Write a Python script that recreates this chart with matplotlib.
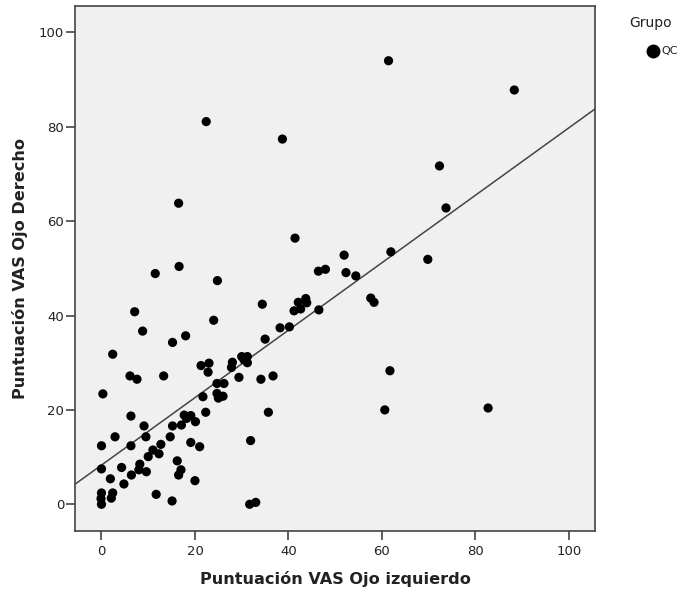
import numpy as np
import matplotlib
matplotlib.use("Agg")
import matplotlib.pyplot as plt
from matplotlib.lines import Line2D

# Data
vas_izq = [61.4, 88.3, 22.4, 38.7, 72.3, 73.7, 16.5, 41.4, 51.9, 61.9,
           69.8, 46.4, 47.9, 52.3, 54.4, 16.6, 11.5, 24.8, 57.6, 58.3,
           43.7, 42.1, 43.9, 41.2, 42.6, 46.5, 34.4, 7.1, 24.0, 40.2,
           38.2, 8.8, 18.0, 35.0, 15.2, 2.4, 30.0, 31.2, 31.2, 30.5,
           21.3, 23.0, 22.8, 28.0, 27.8, 6.1, 7.6, 13.3, 29.4, 34.1,
           36.7, 61.7, 24.7, 26.2, 0.3, 21.7, 24.7, 25.0, 26.0, 60.6,
           82.7, 22.3, 35.7, 6.3, 17.7, 19.1, 20.1, 18.2, 9.1, 15.2,
           17.1, 2.9, 9.5, 14.7, 0.0, 6.3, 12.7, 11.0, 12.3, 10.0,
           19.1, 21.0, 31.9, 16.2, 17.0, 16.5, 20.0, 0.0, 4.3, 8.2,
           8.0, 6.4, 9.6, 1.9, 4.8, 0.0, 2.4, -0.1, 2.1, 0.0,
           11.7, 15.1, 31.7, 33.0]
vas_der = [94.0, 87.8, 81.1, 77.4, 71.7, 62.8, 63.8, 56.4, 52.8, 53.5,
           51.9, 49.4, 49.8, 49.1, 48.4, 50.4, 48.9, 47.4, 43.7, 42.8,
           43.6, 42.8, 42.7, 41.0, 41.4, 41.2, 42.4, 40.8, 39.0, 37.6,
           37.4, 36.7, 35.7, 35.0, 34.3, 31.8, 31.3, 31.3, 30.0, 30.6,
           29.4, 29.9, 28.0, 30.1, 29.0, 27.2, 26.5, 27.2, 26.9, 26.5,
           27.2, 28.3, 25.6, 25.6, 23.4, 22.8, 23.5, 22.5, 22.9, 20.0,
           20.4, 19.5, 19.5, 18.7, 18.9, 18.8, 17.5, 18.2, 16.6, 16.6,
           16.8, 14.3, 14.3, 14.3, 12.4, 12.4, 12.7, 11.5, 10.7, 10.1,
           13.1, 12.2, 13.5, 9.2, 7.3, 6.2, 5.0, 7.5, 7.8, 8.5,
           7.3, 6.2, 6.9, 5.4, 4.3, 2.4, 2.4, 1.2, 1.3, 0.0,
           2.1, 0.7, 0.0, 0.4]
# Fit line as drawn in the reference (intercept, slope)
fit_intercept = 8.3
fit_slope = 0.715
ticks = [0, 20, 40, 60, 80, 100]
grupo = "QC"

x = np.array(vas_izq)
y = np.array(vas_der)

fig = plt.figure(figsize=(6.94, 5.94), dpi=100)
ax = fig.add_axes([75.3/694, 1-530.7/594, (594.7-75.3)/694, (530.7-6)/594])
ax.set_facecolor("#F0F0F0")
ax.set_xlim(-5.6, 105.5)
ax.set_ylim(-5.6, 105.6)

xl = np.array(ax.get_xlim())
ax.plot(xl, fit_intercept + fit_slope * xl, color="#444444", lw=1.1, zorder=2)
ax.scatter(x, y, s=44, color="black", edgecolors="none", zorder=3)

ax.set_xticks(ticks)
ax.set_yticks(ticks)
ax.tick_params(direction="out", length=6.5, width=1.2, color="#444444",
               labelsize=9.5, labelcolor="#222222")
ax.tick_params(axis="x", pad=4)
ax.tick_params(axis="y", pad=1.5)
for sp in ax.spines.values():
    sp.set_color("#444444")
    sp.set_linewidth(1.2)

ax.set_xlabel("Puntuación VAS Ojo izquierdo", fontsize=11.6, fontweight="bold",
              color="#222222", labelpad=9)
ax.set_ylabel("Puntuación VAS Ojo Derecho", fontsize=11.6, fontweight="bold",
              color="#222222", labelpad=8)

# Legend drawn in figure coordinates
fig.text(651/694, 1-23/594, "Grupo", ha="center", va="center",
         fontsize=10, color="#222222")
fig.add_artist(Line2D([653/694], [1-51/594], marker="o", linestyle="none",
                      color="black", markersize=9,
                      transform=fig.transFigure))
fig.text(661/694, 1-51/594, grupo, ha="left", va="center",
         fontsize=8, color="#222222")

fig.savefig("out.png", dpi=100)
